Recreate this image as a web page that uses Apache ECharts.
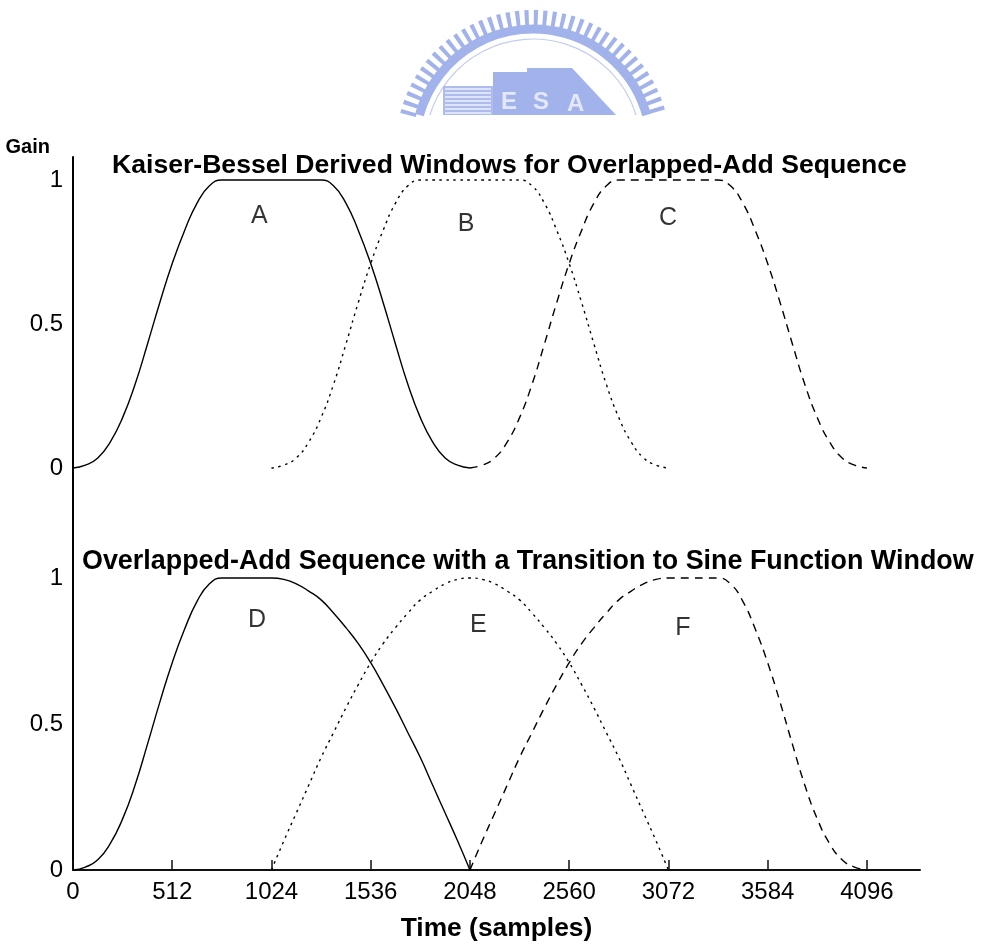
<!DOCTYPE html>
<html><head><meta charset="utf-8">
<script src="https://cdn.jsdelivr.net/npm/echarts@6/dist/echarts.min.js"></script>
<style>html,body{margin:0;padding:0;background:#fff}#c{width:982px;height:947px}</style>
</head><body><div id="c"></div>
<script>
// ---- data ----
const titleTop = 'Kaiser-Bessel Derived Windows for Overlapped-Add Sequence';
const titleBottom = 'Overlapped-Add Sequence with a Transition to Sine Function Window';
const xAxisName = 'Time (samples)';
const yAxisName = 'Gain';
const xTicks = [0, 512, 1024, 1536, 2048, 2560, 3072, 3584, 4096];
const yTicks = [0, 0.5, 1];

const samples = [0,64,128,192,256,320,384,448,512,576,640,704,768,832,896,960,
  1024,1088,1152,1216,1280,1344,1408,1472,1536,1600,1664,1728,1792,1856,1920,1984,
  2048,2112,2176,2240,2304,2368,2432,2496,2560,2624,2688,2752,2816,2880,2944,3008,
  3072,3136,3200,3264,3328,3392,3456,3520,3584,3648,3712,3776,3840,3904,3968,4032,4096];

const _ = null;
// Top panel: KBD windows A, B, C
const gainA = [0,0.01,0.035,0.09,0.175,0.29,0.43,0.575,0.71,0.825,0.92,0.98,1,1,1,1,
  1,1,1,1,1,0.98,0.92,0.825,0.71,0.575,0.43,0.29,0.175,0.09,0.035,0.01,
  0,_,_,_,_,_,_,_,_,_,_,_,_,_,_,_,
  _,_,_,_,_,_,_,_,_,_,_,_,_,_,_,_,_];
const gainB = [_,_,_,_,_,_,_,_,_,_,_,_,_,_,_,_,
  0,0.01,0.035,0.09,0.175,0.29,0.43,0.575,0.71,0.825,0.92,0.98,1,1,1,1,
  1,1,1,1,1,0.98,0.92,0.825,0.71,0.575,0.43,0.29,0.175,0.09,0.035,0.01,
  0,_,_,_,_,_,_,_,_,_,_,_,_,_,_,_,_];
const gainC = [_,_,_,_,_,_,_,_,_,_,_,_,_,_,_,_,
  _,_,_,_,_,_,_,_,_,_,_,_,_,_,_,_,
  0,0.01,0.035,0.09,0.175,0.29,0.43,0.575,0.71,0.825,0.92,0.98,1,1,1,1,
  1,1,1,1,1,0.98,0.92,0.825,0.71,0.575,0.43,0.29,0.175,0.09,0.035,0.01,0];
// Bottom panel: start window D, sine window E, stop window F
const gainD = [0,0.01,0.035,0.09,0.175,0.29,0.43,0.575,0.71,0.825,0.92,0.98,1,1,1,1,
  1,0.995,0.98,0.955,0.925,0.88,0.83,0.775,0.71,0.635,0.555,0.47,0.385,0.29,0.195,0.1,
  0,_,_,_,_,_,_,_,_,_,_,_,_,_,_,_,
  _,_,_,_,_,_,_,_,_,_,_,_,_,_,_,_,_];
const gainE = [_,_,_,_,_,_,_,_,_,_,_,_,_,_,_,_,
  0,0.1,0.195,0.29,0.385,0.47,0.555,0.635,0.71,0.775,0.83,0.88,0.925,0.955,0.98,0.995,
  1,0.995,0.98,0.955,0.925,0.88,0.83,0.775,0.71,0.635,0.555,0.47,0.385,0.29,0.195,0.1,
  0,_,_,_,_,_,_,_,_,_,_,_,_,_,_,_,_];
const gainF = [_,_,_,_,_,_,_,_,_,_,_,_,_,_,_,_,
  _,_,_,_,_,_,_,_,_,_,_,_,_,_,_,_,
  0,0.1,0.195,0.29,0.385,0.47,0.555,0.635,0.71,0.775,0.83,0.88,0.925,0.955,0.98,0.995,
  1,1,1,1,1,0.98,0.92,0.825,0.71,0.575,0.43,0.29,0.175,0.09,0.035,0.01,0];

// Window letters (annotation positions in data units)
const letterNames = ['A','B','C','D','E','F'];
const letterX = [961, 2028, 3070, 950, 2091, 3147];
const letterY = [0.875, 0.847, 0.868, 0.856, 0.839, 0.829];
const letterPanel = [0, 0, 0, 1, 1, 1];

// ---- chart ----
const FONT = '"Liberation Sans", Arial, sans-serif';
const chart = echarts.init(document.getElementById('c'), null, {renderer: 'canvas'});

function pts(g) {
  const out = [];
  for (let i = 0; i < samples.length; i++) if (g[i] !== null) out.push([samples[i], g[i]]);
  return out;
}
function lineSeries(name, g, panel, dash) {
  return {
    name, type: 'line', xAxisIndex: panel, yAxisIndex: panel, data: pts(g),
    showSymbol: false, symbol: 'none', smooth: 0.5, animation: false, silent: true,
    lineStyle: {color: '#000', width: 1.4, type: dash}
  };
}

// logo (background decoration)
const cx = 533, cy = 147, cut = 32;
function arcEl(r, lw, color, dash) {
  const a = Math.asin(cut / r);
  return {type: 'arc', silent: true, z: -10,
    shape: {cx, cy, r, startAngle: Math.PI + a, endAngle: 2 * Math.PI - a},
    style: {stroke: color, lineWidth: lw, fill: null, lineDash: dash || null}};
}
const logoBlue = '#a2b2ea';
const graphics = [
  arcEl(129, 16, logoBlue, [4, 5]),
  arcEl(118, 9, logoBlue),
  arcEl(108, 1.2, '#c3cdf2'),
  {type: 'rect', silent: true, z: -10, shape: {x: 443, y: 86, width: 50, height: 29}, style: {fill: '#aebcee'}},
  {type: 'rect', silent: true, z: -10, shape: {x: 493, y: 72, width: 34, height: 43}, style: {fill: logoBlue}},
  {type: 'rect', silent: true, z: -10, shape: {x: 527, y: 68, width: 30, height: 47}, style: {fill: logoBlue}},
  {type: 'polygon', silent: true, z: -10, shape: {points: [[557, 68], [572, 68], [616, 115], [557, 115]]}, style: {fill: logoBlue}},
  {type: 'text', silent: true, z: -9, x: 501, y: 90, style: {text: 'E', font: 'bold 24px ' + FONT, fill: '#e3e8f9'}},
  {type: 'text', silent: true, z: -9, x: 533, y: 90, style: {text: 'S', font: 'bold 24px ' + FONT, fill: '#e3e8f9'}},
  {type: 'text', silent: true, z: -9, x: 567, y: 92, style: {text: 'A', font: 'bold 24px ' + FONT, fill: '#e3e8f9'}}
];
for (let k = 0; k < 7; k++) {
  graphics.push({type: 'line', silent: true, z: -9, shape: {x1: 445, y1: 89 + k * 4, x2: 491, y2: 89 + k * 4}, style: {stroke: '#eef1fb', lineWidth: 1.5}});
}

const yAxisCommon = {
  type: 'value', interval: 0.25,
  axisLine: {show: true, onZero: false, lineStyle: {color: '#000', width: 2}},
  axisTick: {show: false},
  splitLine: {show: false},
  axisLabel: {customValues: yTicks, color: '#000', fontSize: 24, fontFamily: FONT, margin: 10,
    formatter: v => String(v)}
};

const option = {
  backgroundColor: '#fff',
  animation: false,
  title: [
    {text: titleTop, left: 112, top: 153, padding: 0,
      textStyle: {fontSize: 26.6, fontWeight: 'bold', fontFamily: FONT, color: '#000', lineHeight: 26}},
    {text: titleBottom, left: 82, top: 549, padding: 0,
      textStyle: {fontSize: 26.9, fontWeight: 'bold', fontFamily: FONT, color: '#000', lineHeight: 26}}
  ],
  grid: [
    {left: 73, width: 847, top: 157, height: 383},
    {left: 73, width: 847, top: 540, height: 330}
  ],
  xAxis: [
    {type: 'value', gridIndex: 0, min: 0, max: 4370, show: false},
    {type: 'value', gridIndex: 1, min: 0, max: 4370, interval: 512,
      name: xAxisName, nameLocation: 'middle', nameGap: 46,
      nameTextStyle: {fontSize: 26.4, fontWeight: 'bold', fontFamily: FONT, color: '#000'},
      axisLine: {show: true, onZero: false, lineStyle: {color: '#111', width: 2}},
      axisTick: {show: true, inside: true, length: 10, customValues: xTicks, lineStyle: {color: '#111', width: 1.5}},
      splitLine: {show: false},
      axisLabel: {customValues: xTicks, color: '#000', fontSize: 24, fontFamily: FONT, margin: 10,
        formatter: v => String(v)}}
  ],
  yAxis: [
    Object.assign({}, yAxisCommon, {gridIndex: 0, min: -0.25, max: 1.08,
      name: yAxisName, nameLocation: 'end', nameGap: 10,
      nameTextStyle: {fontSize: 20, fontWeight: 'bold', fontFamily: FONT, color: '#000', align: 'right', verticalAlign: 'middle', padding: [0, 23, 0, 0]}}),
    Object.assign({}, yAxisCommon, {gridIndex: 1, min: 0, max: 1.13})
  ],
  graphic: graphics,
  series: [
    lineSeries('A', gainA, 0, 'solid'),
    lineSeries('B', gainB, 0, [2.5, 4.5]),
    lineSeries('C', gainC, 0, [8, 6]),
    lineSeries('D', gainD, 1, 'solid'),
    lineSeries('E', gainE, 1, [2.5, 4.5]),
    lineSeries('F', gainF, 1, [8, 6]),
    {type: 'scatter', xAxisIndex: 0, yAxisIndex: 0, symbolSize: 1, silent: true,
      itemStyle: {color: 'rgba(0,0,0,0)'},
      data: letterNames.map((n, i) => letterPanel[i] === 0 ? {name: n, value: [letterX[i], letterY[i]]} : null).filter(d => d),
      label: {show: true, position: 'inside', formatter: p => p.name, color: '#000', fontSize: 25, fontFamily: FONT}},
    {type: 'scatter', xAxisIndex: 1, yAxisIndex: 1, symbolSize: 1, silent: true,
      itemStyle: {color: 'rgba(0,0,0,0)'},
      data: letterNames.map((n, i) => letterPanel[i] === 1 ? {name: n, value: [letterX[i], letterY[i]]} : null).filter(d => d),
      label: {show: true, position: 'inside', formatter: p => p.name, color: '#000', fontSize: 25, fontFamily: FONT}}
  ]
};
chart.setOption(option);
</script></body></html>
